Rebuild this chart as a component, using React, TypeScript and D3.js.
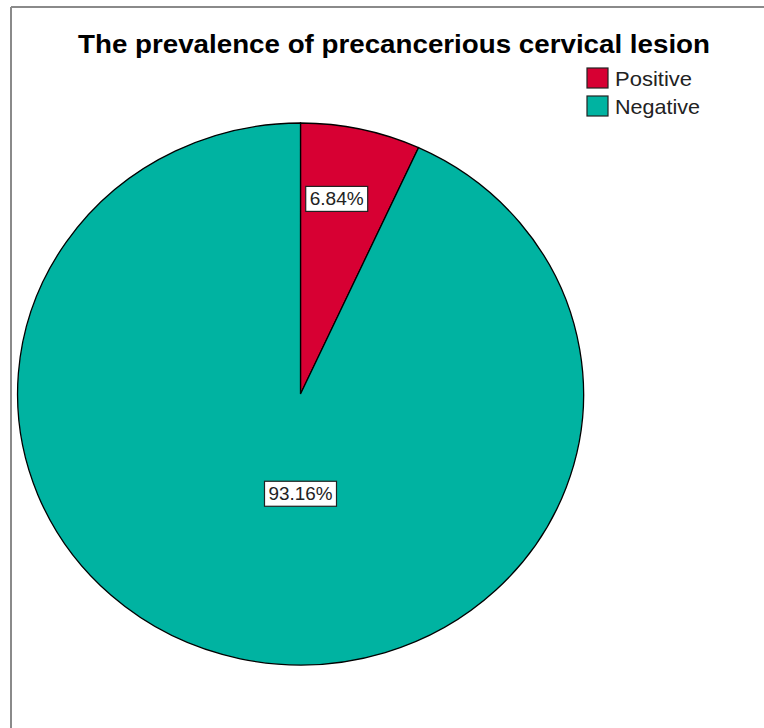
import React from "react";
import * as d3 from "d3";

const categories = ["Positive", "Negative"];
const values = [6.84, 93.16];
const colors = ["#d70033", "#00b3a1"];
const title = "The prevalence of precancerious cervical lesion";

export default function App() {
  const W = 764, H = 728;
  const cx = 300.5, cy = 394, rx = 283, ry = 271;
  const pie = d3.pie<number>().sort(null).value((d) => d)(values);
  const arc = d3.arc<d3.PieArcDatum<number>>().innerRadius(0).outerRadius(1);
  const fmt = (v: number) => v.toFixed(2) + "%";
  const labelPos = pie.map((p, i) => {
    if (i === 0) {
      const a = (p.startAngle + p.endAngle) / 2;
      return [cx + Math.sin(a) * rx * 0.6, cy - Math.cos(a) * ry * 0.735];
    }
    return [cx, cy + ry * 0.37];
  });
  return (
    <svg width={W} height={H} style={{ position: "absolute", left: 0, top: 0, background: "#fff" }}>
      <rect x={0} y={0} width={W} height={H} fill="#fff" />
      <line x1={11} y1={7} x2={W} y2={7} stroke="#8a8a8a" strokeWidth={2} />
      <line x1={11} y1={7} x2={11} y2={H} stroke="#8a8a8a" strokeWidth={2} />
      <text x={394} y={53} textAnchor="middle" fontFamily="Liberation Sans, Arial, sans-serif" fontWeight="bold" fontSize={25} textLength={632} lengthAdjust="spacingAndGlyphs">
        {title}
      </text>
      {categories.map((c, i) => (
        <g key={c} transform={`translate(587,${68 + i * 28})`}>
          <rect x={0} y={0} width={21} height={20} fill={colors[i]} stroke="#222" strokeWidth={1.2} />
          <text x={28} y={18} fontFamily="Liberation Sans, Arial, sans-serif" fontSize={21} fill="#222" textLength={i === 0 ? 77 : 85} lengthAdjust="spacingAndGlyphs">
            {c}
          </text>
        </g>
      ))}
      <g transform={`translate(${cx},${cy}) scale(${rx},${ry})`}>
        {pie.map((p, i) => (
          <path key={i} d={arc(p) || ""} fill={colors[i]} stroke="#000" strokeWidth={1.3} vectorEffect="non-scaling-stroke" />
        ))}
      </g>
      {pie.map((p, i) => {
        const [x, y] = labelPos[i];
        const w = i === 0 ? 62 : 72;
        return (
          <g key={"l" + i} transform={`translate(${x},${y})`}>
            <rect x={-w / 2} y={-13} width={w} height={25} fill="#fff" stroke="#222" strokeWidth={1.2} />
            <text x={0} y={6} textAnchor="middle" fontFamily="Liberation Sans, Arial, sans-serif" fontSize={18} fill="#222" textLength={i === 0 ? 54 : 64} lengthAdjust="spacingAndGlyphs">
              {fmt(values[i])}
            </text>
          </g>
        );
      })}
    </svg>
  );
}
